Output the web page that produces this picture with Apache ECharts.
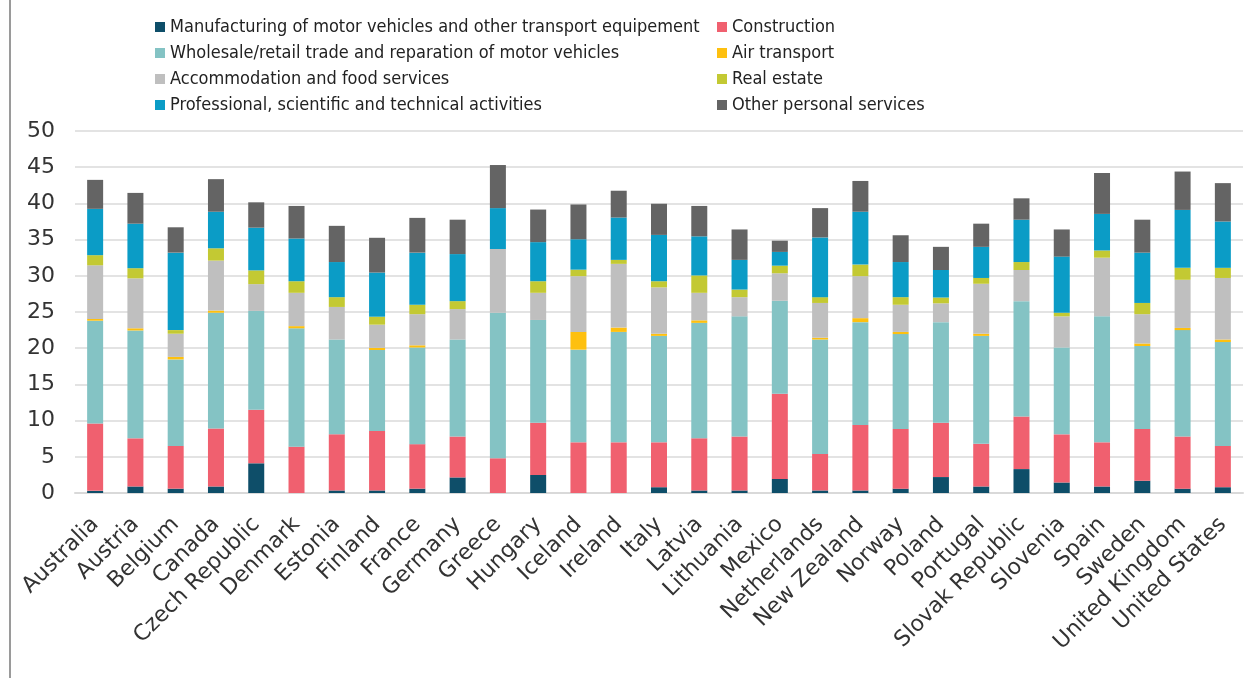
<!DOCTYPE html>
<html>
<head>
<meta charset="utf-8">
<script src="https://cdn.jsdelivr.net/npm/echarts@6/dist/echarts.min.js"></script>
<style>
html,body{margin:0;padding:0;background:#fff;}
#c{width:1252px;height:678px;}
</style>
</head>
<body>
<div id="c"></div>
<script>
var countries = ["Australia","Austria","Belgium","Canada","Czech Republic","Denmark","Estonia","Finland","France","Germany","Greece","Hungary","Iceland","Ireland","Italy","Latvia","Lithuania","Mexico","Netherlands","New Zealand","Norway","Poland","Portugal","Slovak Republic","Slovenia","Spain","Sweden","United Kingdom","United States"];

var manufacturing = [0.3,0.9,0.6,0.9,4.1,0,0.35,0.35,0.6,2.15,0,2.5,0,0,0.8,0.35,0.35,1.95,0.35,0.35,0.6,2.2,0.9,3.3,1.45,0.9,1.7,0.6,0.8];
var construction  = [9.3,6.65,5.9,8.0,7.4,6.4,7.75,8.2,6.15,5.65,4.8,7.2,7.0,7.0,6.2,7.2,7.45,11.75,5.05,9.05,8.25,7.5,5.9,7.25,6.65,6.1,7.15,7.2,5.7];
var wholesale     = [14.2,14.9,11.95,16.0,13.65,16.35,13.1,11.2,13.35,13.4,20.1,14.2,12.8,15.25,14.7,15.95,16.6,12.85,15.8,14.2,13.1,13.9,14.9,15.95,12.0,17.4,11.45,14.7,14.35];
var airTransport  = [0.25,0.3,0.35,0.3,0,0.3,0,0.3,0.3,0,0,0,2.45,0.6,0.3,0.35,0,0,0.25,0.55,0.3,0,0.3,0,0,0,0.35,0.3,0.35];
var accommodation = [7.4,6.9,3.2,6.9,3.7,4.6,4.5,3.2,4.3,4.2,8.8,3.75,7.7,8.8,6.4,3.8,2.65,3.8,4.8,5.8,3.75,2.6,6.9,4.3,4.3,8.1,4.05,6.65,8.5];
var realEstate    = [1.4,1.4,0.5,1.7,1.9,1.6,1.35,1.1,1.3,1.1,0,1.6,0.9,0.55,0.85,2.4,1.05,1.05,0.8,1.6,1.05,0.8,0.8,1.1,0.5,1.0,1.55,1.65,1.4];
var professional  = [6.4,6.15,10.7,5.05,5.9,5.9,4.85,6.1,7.2,6.5,5.65,5.4,4.2,5.85,6.4,5.4,4.1,1.9,8.25,7.3,4.85,3.8,4.3,5.85,7.75,5.05,6.95,8.0,6.4];
var otherPersonal = [4.0,4.25,3.5,4.5,3.5,4.5,5.0,4.8,4.8,4.75,5.95,4.5,4.8,3.7,4.3,4.2,4.2,1.55,4.05,4.25,3.7,3.2,3.2,2.95,3.75,5.65,4.55,5.3,5.3];

var yTicks = [0,5,10,15,20,25,30,35,40,45,50];

var seriesNames = [
  "Manufacturing of motor vehicles and other transport equipement",
  "Construction",
  "Wholesale/retail trade and reparation of motor vehicles",
  "Air transport",
  "Accommodation and food services",
  "Real estate",
  "Professional, scientific and technical activities",
  "Other personal services"
];
var seriesData = [manufacturing,construction,wholesale,airTransport,accommodation,realEstate,professional,otherPersonal];
var colors = ["#0e4e69","#f0606f","#84c3c4","#fec00f","#bfbfbf","#c3c933","#0b9cc6","#646464"];

var series = seriesNames.map(function(n,i){
  return {
    name:n, type:'bar', stack:'total', data:seriesData[i],
    barWidth:16,
    itemStyle:{color:colors[i]},
    emphasis:{disabled:true}
  };
});

var legendFont = {fontFamily:"'Liberation Sans Narrow','DejaVu Sans Condensed',sans-serif", fontSize:18, color:'#222'};

var chart = echarts.init(document.getElementById('c'), null, {renderer:'canvas'});
chart.setOption({
  animation:false,
  color:colors,
  grid:{left:75, right:9, top:131, bottom:185, containLabel:false},
  legend:[
    {orient:'vertical', left:150, top:13, itemWidth:10, itemHeight:10, itemGap:8, icon:'rect',
     textStyle:legendFont, selectedMode:false,
     data:[seriesNames[0],seriesNames[2],seriesNames[4],seriesNames[6]]},
    {orient:'vertical', left:712, top:13, itemWidth:10, itemHeight:10, itemGap:8, icon:'rect',
     textStyle:legendFont, selectedMode:false,
     data:[seriesNames[1],seriesNames[3],seriesNames[5],seriesNames[7]]}
  ],
  xAxis:{
    type:'category', data:countries,
    axisLine:{show:true, lineStyle:{color:'#d9d9d9', width:2}},
    axisTick:{show:false},
    axisLabel:{rotate:45, interval:0, margin:28, fontFamily:"'DejaVu Sans',Verdana,sans-serif", fontSize:22, color:'#333'}
  },
  yAxis:{
    type:'value', min:yTicks[0], max:yTicks[yTicks.length-1], interval:5,
    axisLine:{show:false}, axisTick:{show:false},
    axisLabel:{margin:20, fontFamily:"'DejaVu Sans',Verdana,sans-serif", fontSize:22, color:'#333'},
    splitLine:{lineStyle:{color:'#e3e3e3', width:2}}
  },
  graphic:[{type:'line', shape:{x1:10,y1:0,x2:10,y2:678}, style:{stroke:'#9a9a9a', lineWidth:2}}],
  series:series
});
</script>
</body>
</html>
